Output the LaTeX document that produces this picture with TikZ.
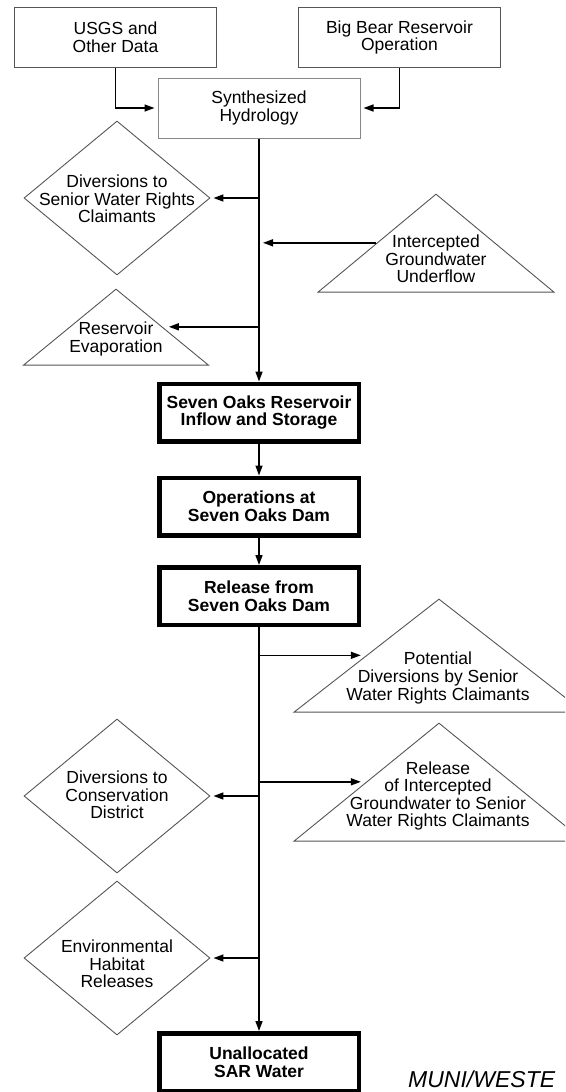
\documentclass[tikz,border=0pt]{standalone}
\usepackage{fontspec}
\setmainfont{Liberation Sans}
\usetikzlibrary{shapes.geometric,arrows.meta}

\definecolor{boxLine}{RGB}{85,85,85}
\definecolor{synthLine}{RGB}{135,135,135}

\tikzset{
  boxtext/.style={font=\fontsize{17.5}{17.6}\selectfont, align=center, inner sep=0pt},
  thinbox/.style={boxtext, draw=boxLine, line width=1pt, minimum width=202pt, minimum height=60pt},
  thickbox/.style={boxtext, draw, line width=4.5pt, minimum width=199.5pt, minimum height=57.5pt,
    font=\fontsize{17.5}{17.6}\selectfont\bfseries},
  lossdiamond/.style={diamond, draw=boxLine, line width=.9pt, minimum width=186pt, minimum height=154pt, inner sep=0pt},
  gaintriangle/.style={isosceles triangle, isosceles triangle stretches, shape border rotate=90,
    draw=boxLine, line width=.9pt, inner sep=0pt, anchor=apex},
  flow/.style={line width=1.5pt, -{Triangle[length=10pt,width=7pt]}},
}

\begin{document}
\begin{tikzpicture}[x=1pt,y=1pt]
  \path[use as bounding box, clip] (0,0) rectangle (565,-1092);
  % Sources
  \node[thinbox] (usgs) at (115.5,-37.5) {USGS and\\Other Data};
  \node[thinbox] (bigbear) at (399.5,-37.5) {Big Bear Reservoir\\Operation};
  \node[thinbox, draw=synthLine] (synth) at (259,-108) {Synthesized\\Hydrology};
  \draw[flow, shorten >=3pt] (usgs.south) |- (synth.west);
  \draw[flow, shorten >=3pt] (bigbear.south) |- (synth.east);
  % Upstream of the reservoir
  \node[lossdiamond] (divsenior) at (117,-198) {};
  \node[boxtext] (divsenior-t) at (117,-199) {Diversions to\\Senior Water Rights\\Claimants};
  \node[gaintriangle, minimum width=236pt, minimum height=98pt] (underflow) at (436,-193) {};
  \node[boxtext] (underflow-t) at (436,-259) {Intercepted\\Groundwater\\Underflow};
  \node[gaintriangle, minimum width=185pt, minimum height=76pt] (evap) at (116,-288) {};
  \node[boxtext] (evap-t) at (116,-339) {Reservoir\\Evaporation};
  % Reservoir and dam
  \node[thickbox] (sevenoaks) at (259,-412.5) {Seven Oaks Reservoir\\Inflow and Storage};
  \node[thickbox] (operations) at (259,-506.5) {Operations at\\Seven Oaks Dam};
  \node[thickbox] (release) at (259,-596) {Release from\\Seven Oaks Dam};
  \node[thickbox] (unalloc) at (259,-1062) {Unallocated\\SAR Water};
  \draw[flow] (synth) -- (sevenoaks);
  \draw[flow, shorten >=3pt] (divsenior.east -| synth.south) -- (divsenior.east);
  \draw[flow, shorten >=4pt] (underflow.left side) -- (underflow.left side -| synth.south);
  \draw[flow, shorten >=6pt] (evap.right side -| synth.south) -- (evap.right side);
  \draw[flow] (sevenoaks) -- (operations);
  \draw[flow] (operations) -- (release);
  % Downstream of the dam
  \node[gaintriangle, minimum width=290pt, minimum height=113pt] (potdiv) at (439,-598) {};
  \node[boxtext] (potdiv-t) at (438,-678) {Potential\\Diversions by Senior\\Water Rights Claimants};
  \node[gaintriangle, minimum width=290pt, minimum height=118pt] (relground) at (439,-722) {};
  \node[boxtext] (relground-t) at (438,-796) {Release\\of Intercepted\\Groundwater to Senior\\Water Rights Claimants};
  \node[lossdiamond] (divcons) at (117,-796) {};
  \node[boxtext] (divcons-t) at (117,-795) {Diversions to\\Conservation\\District};
  \node[lossdiamond] (habitat) at (117,-958) {};
  \node[boxtext] (habitat-t) at (117,-964) {Environmental\\Habitat\\Releases};
  \draw[flow] (release) -- (unalloc);
  \draw[flow, shorten >=5pt] (release.south |- potdiv.left side) -- (potdiv.left side);
  \draw[flow, shorten >=5pt] (release.south |- relground.left side) -- (relground.left side);
  \draw[flow, shorten >=3pt] (divcons.east -| release.south) -- (divcons.east);
  \draw[flow, shorten >=3pt] (habitat.east -| release.south) -- (habitat.east);
  \node[font=\fontsize{23}{23}\selectfont\itshape, anchor=base west, inner sep=0pt] (muni) at (408,-1087) {MUNI/WESTE};
\end{tikzpicture}
\end{document}
